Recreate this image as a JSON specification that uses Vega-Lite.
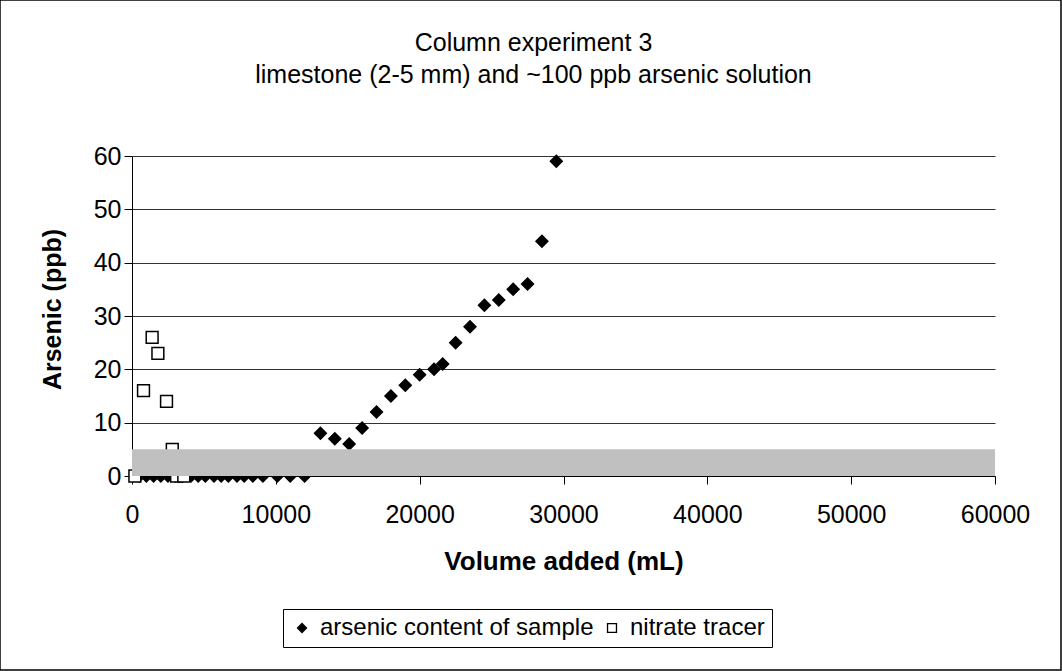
{
  "$schema": "https://vega.github.io/schema/vega-lite/v6.json",
  "width": 1061,
  "height": 670,
  "autosize": "none",
  "padding": {"left": 0, "top": 0, "right": 1, "bottom": 1},
  "background": "white",
  "title": {
    "text": ["Column experiment 3", "limestone (2-5 mm) and ~100 ppb arsenic solution"],
    "font": "Liberation Sans",
    "fontSize": 25,
    "fontWeight": "normal",
    "color": "black",
    "anchor": "middle",
    "frame": "group",
    "dx": 3,
    "offset": -88,
    "lineHeight": 32
  },
  "config": {
    "view": {"stroke": "black", "strokeWidth": 1.5},
    "font": "Liberation Sans",
    "legend": {
      "orient": "none",
      "legendX": 283,
      "legendY": 609,
      "direction": "horizontal",
      "strokeColor": "black",
      "padding": 7,
      "labelFontSize": 24,
      "labelFont": "Liberation Sans",
      "labelColor": "black",
      "labelLimit": 0,
      "symbolSize": 80,
      "symbolStrokeWidth": 1.3,
      "labelOffset": 6,
      "columnPadding": 6
    }
  },
  "datasets": {
    "samples": [
      {"series": "arsenic content of sample", "volume": 500, "ppb": 0},
      {"series": "arsenic content of sample", "volume": 1000, "ppb": 0},
      {"series": "arsenic content of sample", "volume": 1500, "ppb": 0},
      {"series": "arsenic content of sample", "volume": 2000, "ppb": 0},
      {"series": "arsenic content of sample", "volume": 2500, "ppb": 0},
      {"series": "arsenic content of sample", "volume": 3000, "ppb": 0},
      {"series": "arsenic content of sample", "volume": 3500, "ppb": 0},
      {"series": "arsenic content of sample", "volume": 4100, "ppb": 0},
      {"series": "arsenic content of sample", "volume": 4600, "ppb": 0},
      {"series": "arsenic content of sample", "volume": 5100, "ppb": 0},
      {"series": "arsenic content of sample", "volume": 5700, "ppb": 0},
      {"series": "arsenic content of sample", "volume": 6200, "ppb": 0},
      {"series": "arsenic content of sample", "volume": 6700, "ppb": 0},
      {"series": "arsenic content of sample", "volume": 7300, "ppb": 0},
      {"series": "arsenic content of sample", "volume": 7800, "ppb": 0},
      {"series": "arsenic content of sample", "volume": 8400, "ppb": 0},
      {"series": "arsenic content of sample", "volume": 9100, "ppb": 0},
      {"series": "arsenic content of sample", "volume": 10100, "ppb": 0},
      {"series": "arsenic content of sample", "volume": 11000, "ppb": 0},
      {"series": "arsenic content of sample", "volume": 12000, "ppb": 0},
      {"series": "arsenic content of sample", "volume": 13100, "ppb": 8},
      {"series": "arsenic content of sample", "volume": 14100, "ppb": 7},
      {"series": "arsenic content of sample", "volume": 15100, "ppb": 6},
      {"series": "arsenic content of sample", "volume": 16000, "ppb": 9},
      {"series": "arsenic content of sample", "volume": 17000, "ppb": 12},
      {"series": "arsenic content of sample", "volume": 18000, "ppb": 15},
      {"series": "arsenic content of sample", "volume": 19000, "ppb": 17},
      {"series": "arsenic content of sample", "volume": 20000, "ppb": 19},
      {"series": "arsenic content of sample", "volume": 21000, "ppb": 20},
      {"series": "arsenic content of sample", "volume": 21600, "ppb": 21},
      {"series": "arsenic content of sample", "volume": 22500, "ppb": 25},
      {"series": "arsenic content of sample", "volume": 23500, "ppb": 28},
      {"series": "arsenic content of sample", "volume": 24500, "ppb": 32},
      {"series": "arsenic content of sample", "volume": 25500, "ppb": 33},
      {"series": "arsenic content of sample", "volume": 26500, "ppb": 35},
      {"series": "arsenic content of sample", "volume": 27500, "ppb": 36},
      {"series": "arsenic content of sample", "volume": 28500, "ppb": 44},
      {"series": "arsenic content of sample", "volume": 29500, "ppb": 59},
      {"series": "nitrate tracer", "volume": 200, "ppb": 0},
      {"series": "nitrate tracer", "volume": 800, "ppb": 16},
      {"series": "nitrate tracer", "volume": 1400, "ppb": 26},
      {"series": "nitrate tracer", "volume": 1800, "ppb": 23},
      {"series": "nitrate tracer", "volume": 2400, "ppb": 14},
      {"series": "nitrate tracer", "volume": 2800, "ppb": 5},
      {"series": "nitrate tracer", "volume": 3100, "ppb": 0},
      {"series": "nitrate tracer", "volume": 3600, "ppb": 0}
    ],
    "band": [
      {"from": 0, "to": 60000, "low": 0, "high": 5}
    ]
  },
  "layer": [
    {
      "data": {"name": "samples"},
      "mark": {"type": "point", "size": 140, "strokeWidth": 1.5, "opacity": 1, "fillOpacity": 1},
      "encoding": {
        "x": {
          "field": "volume", "type": "quantitative",
          "scale": {"domain": [0, 60000], "range": [132, 995], "nice": false, "zero": true},
          "axis": {
            "title": "Volume added (mL)",
            "values": [0, 10000, 20000, 30000, 40000, 50000, 60000],
            "format": "d",
            "offset": -194,
            "grid": false,
            "domainColor": "black",
            "tickColor": "black",
            "tickSize": 8,
            "labelFontSize": 25,
            "labelColor": "black",
            "labelPadding": 18,
            "labelFont": "Liberation Sans",
            "labelFlush": false,
            "titleFont": "Liberation Sans",
            "titleFontSize": 26,
            "titleFontWeight": "bold",
            "titleColor": "black",
            "titleBaseline": "alphabetic",
            "titleY": 93
          }
        },
        "y": {
          "field": "ppb", "type": "quantitative",
          "scale": {"domain": [0, 60], "range": [476, 156], "nice": false},
          "axis": {
            "title": "Arsenic (ppb)",
            "values": [0, 10, 20, 30, 40, 50, 60],
            "offset": -132,
            "grid": true,
            "gridColor": "#333333",
            "gridWidth": 1,
            "domainColor": "black",
            "tickColor": "black",
            "tickSize": 8,
            "labelFontSize": 25,
            "labelColor": "black",
            "labelPadding": 3,
            "labelFont": "Liberation Sans",
            "titleFont": "Liberation Sans",
            "titleFontSize": 25,
            "titleFontWeight": "bold",
            "titleColor": "black",
            "titleAngle": -90,
            "titleBaseline": "alphabetic",
            "titleX": -72,
            "titleY": 309
          }
        },
        "shape": {
          "field": "series", "type": "nominal",
          "scale": {"domain": ["arsenic content of sample", "nitrate tracer"], "range": ["diamond", "square"]},
          "legend": {"title": null}
        },
        "fill": {
          "field": "series", "type": "nominal",
          "scale": {"domain": ["arsenic content of sample", "nitrate tracer"], "range": ["black", "white"]},
          "legend": {"title": null}
        },
        "stroke": {
          "field": "series", "type": "nominal",
          "scale": {"domain": ["arsenic content of sample", "nitrate tracer"], "range": ["black", "black"]},
          "legend": {"title": null}
        }
      }
    },
    {
      "data": {"name": "band"},
      "mark": {"type": "rect", "color": "#C0C0C0", "opacity": 1},
      "encoding": {
        "x": {"field": "from", "type": "quantitative"},
        "x2": {"field": "to"},
        "y": {"field": "low", "type": "quantitative"},
        "y2": {"field": "high"}
      }
    }
  ]
}
